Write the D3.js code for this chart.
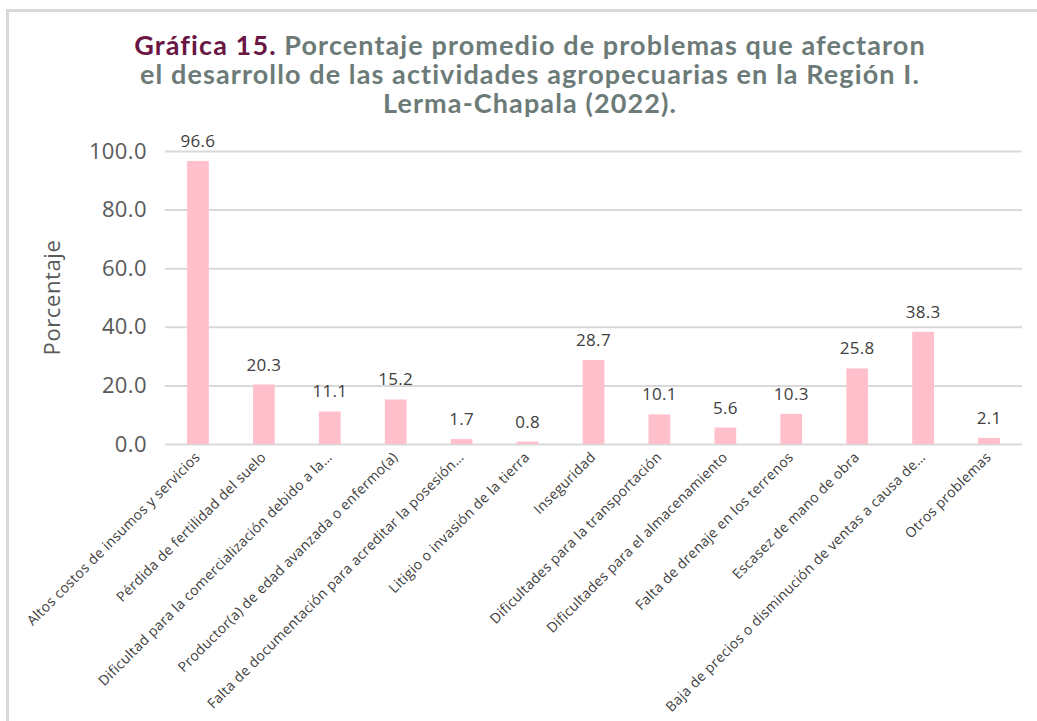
<!DOCTYPE html>
<html>
<head>
<meta charset="utf-8">
<script src="https://cdn.jsdelivr.net/npm/d3@7"></script>
<style>
  body { margin: 0; background: #fff; }
  svg { display: block; }
</style>
</head>
<body>
<div id="chartDiv"></div>
<script>
// data
const categories = [
  "Altos costos de insumos y servicios",
  "Pérdida de fertilidad del suelo",
  "Dificultad para la comercialización debido a la…",
  "Productor(a) de edad avanzada o enfermo(a)",
  "Falta de documentación para acreditar la posesión…",
  "Litigio o invasión de la tierra",
  "Inseguridad",
  "Dificultades para la transportación",
  "Dificultades para el almacenamiento",
  "Falta de drenaje en los terrenos",
  "Escasez de mano de obra",
  "Baja de precios o disminución de ventas a causa de…",
  "Otros problemas"
];
const values = [96.6, 20.3, 11.1, 15.2, 1.7, 0.8, 28.7, 10.1, 5.6, 10.3, 25.8, 38.3, 2.1];
const yTicks = [0, 20, 40, 60, 80, 100];

const titleLines = [
  [["Gráfica 15. ", "#6a1645"], ["Porcentaje promedio de problemas que afectaron", "#6c7b78"]],
  [["el desarrollo de las actividades agropecuarias en la Región I.", "#6c7b78"]],
  [["Lerma-Chapala (2022).", "#6c7b78"]]
];

const width = 1037, height = 721;
const margin = {top: 151, right: 15, bottom: 277, left: 165};

let svg = d3.select("#chartDiv").append("svg")
  .attr("width", width)
  .attr("height", height);

// card frame
svg.append("rect")
  .attr("x", 7.5).attr("y", 10.5)
  .attr("width", width + 20).attr("height", height + 20)
  .attr("fill", "#fff")
  .attr("stroke", "#d9d9d9")
  .attr("stroke-width", 3);

// title
let title = svg.append("text")
  .attr("text-anchor", "middle")
  .style("font-family", "Lato, 'Open Sans', sans-serif")
  .style("font-weight", "bold")
  .style("font-size", "27px")
  .style("letter-spacing", "1.1px");
titleLines.forEach((line, i) => {
  let t = title.append("tspan")
    .attr("x", 530)
    .attr("y", 55 + i * 29);
  line.forEach(([txt, col]) => {
    t.append("tspan").attr("fill", col).text(txt);
  });
});

let x = d3.scaleBand()
  .domain(categories)
  .range([margin.left, width - margin.right])
  .paddingInner(0.67)
  .paddingOuter(0.335);

let y = d3.scaleLinear()
  .domain([0, 100])
  .range([height - margin.bottom, margin.top]);

// gridlines + y labels
let yAxis = d3.axisLeft(y)
  .tickValues(yTicks)
  .tickSize(-(width - margin.left - margin.right))
  .tickPadding(18)
  .tickFormat(d3.format(".1f"));

let gy = svg.append("g")
  .attr("transform", `translate(${margin.left},0)`)
  .call(yAxis);
gy.select(".domain").remove();
gy.selectAll(".tick line").attr("stroke", "#d9d9d9").attr("stroke-width", 2);
gy.selectAll(".tick text")
  .attr("fill", "#595959")
  .style("font-family", "'Open Sans', sans-serif")
  .style("font-size", "22px")
  .style("letter-spacing", "0.4px");

// y axis title
svg.append("text")
  .attr("transform", `translate(60,${(margin.top + height - margin.bottom) / 2}) rotate(-90)`)
  .attr("text-anchor", "middle")
  .attr("fill", "#595959")
  .style("font-family", "'Open Sans', sans-serif")
  .style("font-size", "22px")
  .style("letter-spacing", "0.6px")
  .text("Porcentaje");

// bars
svg.selectAll(".bar")
  .data(values)
  .enter().append("rect")
  .attr("class", "bar")
  .attr("x", (d, i) => x(categories[i]))
  .attr("y", d => y(d))
  .attr("width", x.bandwidth())
  .attr("height", d => y(0) - y(d))
  .attr("fill", "#ffc0cc");

// value labels
svg.selectAll(".valueLabel")
  .data(values)
  .enter().append("text")
  .attr("class", "valueLabel")
  .attr("x", (d, i) => x(categories[i]) + x.bandwidth() / 2)
  .attr("y", d => y(d) - 14)
  .attr("text-anchor", "middle")
  .attr("fill", "#404040")
  .style("font-family", "'Open Sans', sans-serif")
  .style("font-size", "17px")
  .style("letter-spacing", "0.3px")
  .text(d => d3.format(".1f")(d));

// category labels
svg.selectAll(".catLabel")
  .data(categories)
  .enter().append("text")
  .attr("class", "catLabel")
  .attr("transform", d => `translate(${x(d) + x.bandwidth() / 2 + 3},${y(0) + 14}) rotate(-45)`)
  .attr("text-anchor", "end")
  .attr("fill", "#404040")
  .style("font-family", "'Open Sans', sans-serif")
  .style("font-size", "14px")
  .style("letter-spacing", "0.3px")
  .text(d => d);
</script>
</body>
</html>
